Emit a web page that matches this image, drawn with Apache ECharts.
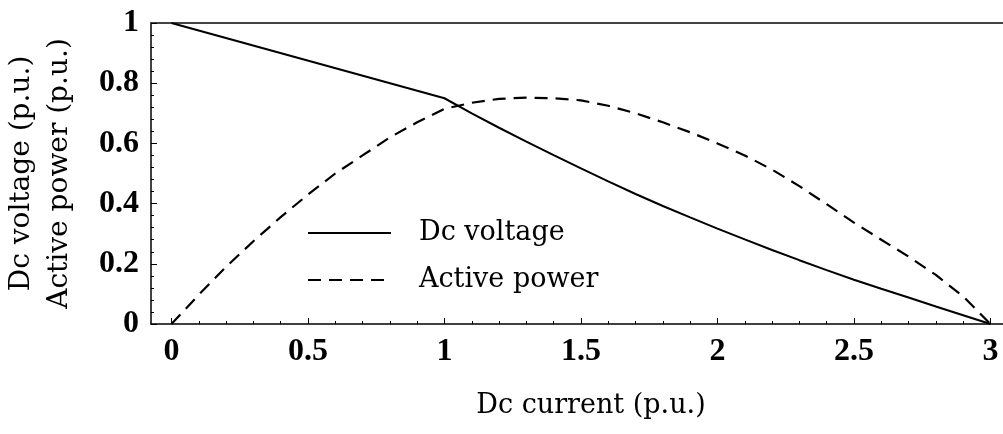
<!DOCTYPE html>
<html>
<head>
<meta charset="utf-8">
<script src="https://cdn.jsdelivr.net/npm/echarts@6/dist/echarts.min.js"></script>
<style>
  html, body { margin: 0; padding: 0; background: #fff; }
  #main { width: 1003px; height: 434px; }
</style>
</head>
<body>
<div id="main"></div>
<script>
// Dc voltage vs current (straight part up to 1 p.u., then curved down to 0 at 3 p.u.)
var currentV = [0, 1, 1.1, 1.2, 1.3, 1.4, 1.5, 1.6, 1.7, 1.8, 1.9, 2.0,
                2.1, 2.2, 2.3, 2.4, 2.5, 2.6, 2.7, 2.8, 2.9, 3.0];
var voltage = [1, 0.75, 0.70, 0.652, 0.606, 0.561, 0.517, 0.474, 0.432, 0.392, 0.354, 0.317,
               0.281, 0.246, 0.212, 0.179, 0.147, 0.117, 0.088, 0.058, 0.029, 0];

// Active power vs current
var currentP = [0, 0.1, 0.2, 0.3, 0.4, 0.5, 0.6, 0.7, 0.8, 0.9, 1.0,
                1.1, 1.2, 1.3, 1.4, 1.5, 1.6, 1.7, 1.8, 1.9, 2.0,
                2.1, 2.2, 2.3, 2.4, 2.5, 2.6, 2.7, 2.8, 2.9, 3.0];
var power = [0, 0.097, 0.19, 0.275, 0.355, 0.43, 0.50, 0.56, 0.62, 0.67, 0.715,
             0.735, 0.748, 0.752, 0.75, 0.743, 0.725, 0.70, 0.67, 0.637, 0.60,
             0.56, 0.513, 0.458, 0.398, 0.337, 0.28, 0.224, 0.163, 0.092, 0];

var xMajorTicks = [0, 0.5, 1, 1.5, 2, 2.5, 3];
var xMinorTicks = [0.1, 0.2, 0.3, 0.4, 0.6, 0.7, 0.8, 0.9, 1.1, 1.2, 1.3, 1.4,
                   1.6, 1.7, 1.8, 1.9, 2.1, 2.2, 2.3, 2.4, 2.6, 2.7, 2.8, 2.9];

function pairs(xs, ys) {
    var out = [];
    for (var i = 0; i < xs.length; i++) out.push([xs[i], ys[i]]);
    return out;
}

var serif = 'DejaVu Serif';
var tickFont = 'Liberation Serif';
var myChart = echarts.init(document.getElementById('main'));

var option = {
    animation: false,
    backgroundColor: '#fff',
    grid: { left: 151, right: 0, top: 23, bottom: 110, containLabel: false, outerBoundsMode: 'none' },
    legend: {
        orient: 'vertical',
        left: 307,
        top: 219,
        padding: 0,
        itemWidth: 83,
        itemHeight: 14,
        itemGap: 19,
        itemStyle: { opacity: 0 },
        data: ['Dc voltage', 'Active power'],
        textStyle: {
            fontFamily: serif, fontSize: 27, color: '#000',
            lineHeight: 28, padding: [0, 0, 0, 23]
        }
    },
    xAxis: [{
        type: 'value',
        min: -0.075,
        max: 3.046,
        position: 'bottom',
        name: 'Dc current (p.u.)',
        nameLocation: 'middle',
        nameGap: 68,
        nameTextStyle: { fontFamily: serif, fontSize: 27, color: '#000', padding: [0, 0, 0, 28] },
        axisLine: { show: true, onZero: false, lineStyle: { color: '#000', width: 1.5 } },
        axisTick: { show: true, inside: true, length: 6, customValues: xMajorTicks,
                    lineStyle: { color: '#000', width: 1 } },
        axisLabel: { customValues: xMajorTicks, margin: 12, color: '#000',
                     fontFamily: tickFont, fontWeight: 'bold', fontSize: 32 },
        splitLine: { show: false }
    }, {
        type: 'value',
        min: -0.075,
        max: 3.046,
        position: 'bottom',
        axisLine: { show: false },
        axisTick: { show: true, inside: true, length: 3, customValues: xMinorTicks,
                    lineStyle: { color: '#000', width: 1 } },
        axisLabel: { show: false },
        splitLine: { show: false }
    }, {
        type: 'value',
        min: -0.075,
        max: 3.046,
        position: 'top',
        axisLine: { show: true, onZero: false, lineStyle: { color: '#444', width: 2 } },
        axisTick: { show: false },
        axisLabel: { show: false },
        splitLine: { show: false }
    }],
    yAxis: {
        type: 'value',
        min: 0,
        max: 1,
        interval: 0.2,
        name: 'Dc voltage (p.u.)\nActive power (p.u.)',
        nameLocation: 'middle',
        nameRotate: 90,
        nameGap: 72,
        nameTextStyle: { fontFamily: serif, fontSize: 28, color: '#000', lineHeight: 38 },
        axisLine: { show: true, onZero: false, lineStyle: { color: '#000', width: 1.5 } },
        axisTick: { show: true, inside: true, length: 6, lineStyle: { color: '#000', width: 1 } },
        minorTick: { show: true, splitNumber: 5, length: 3, lineStyle: { color: '#000', width: 1 } },
        axisLabel: { margin: 12, color: '#000', fontFamily: tickFont, fontWeight: 'bold', fontSize: 32 },
        splitLine: { show: false },
        minorSplitLine: { show: false }
    },
    series: [{
        name: 'Dc voltage',
        type: 'line',
        xAxisIndex: 0,
        showSymbol: false,
        symbol: 'none',
        lineStyle: { color: '#000', width: 2, type: 'solid' },
        itemStyle: { color: '#000' },
        data: pairs(currentV, voltage)
    }, {
        name: 'Active power',
        type: 'line',
        xAxisIndex: 0,
        showSymbol: false,
        symbol: 'none',
        lineStyle: { color: '#000', width: 2.2, type: [13, 8] },
        itemStyle: { color: '#000' },
        data: pairs(currentP, power)
    }]
};

myChart.setOption(option);
</script>
</body>
</html>
